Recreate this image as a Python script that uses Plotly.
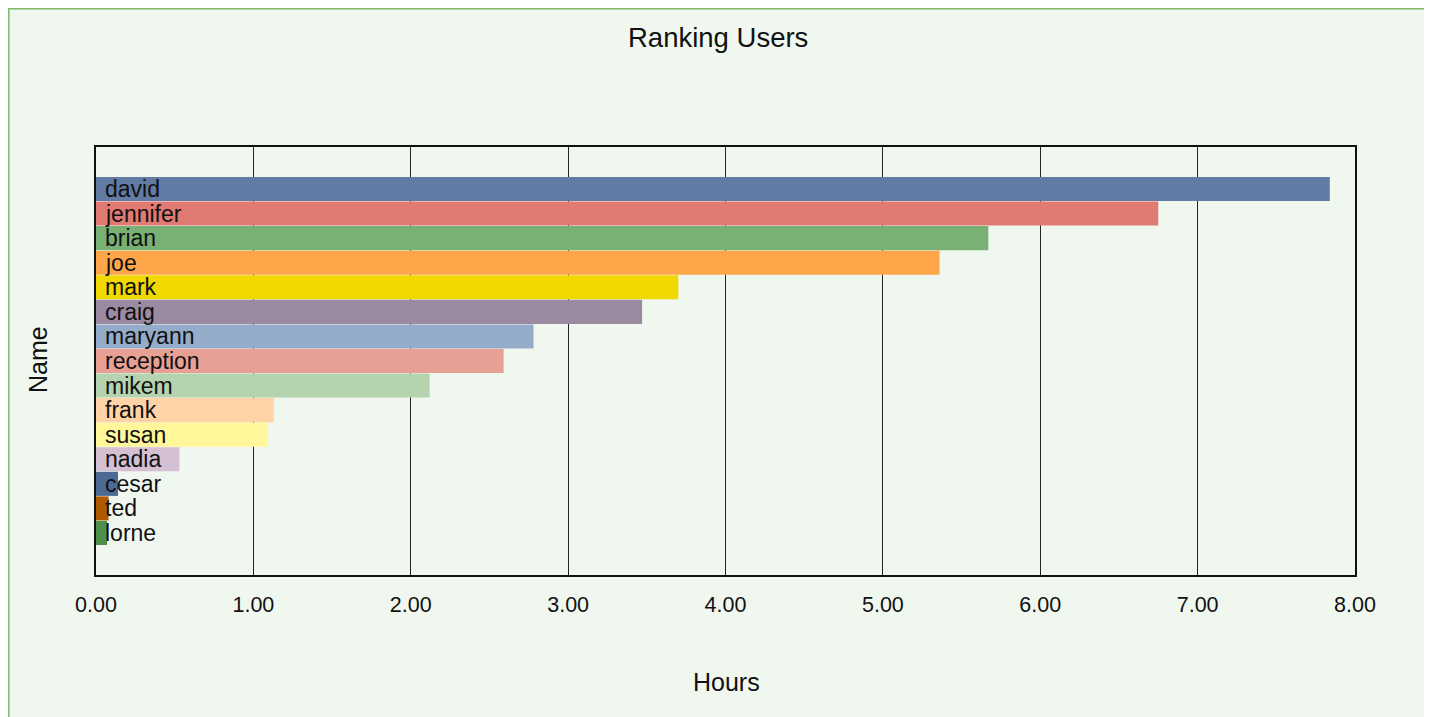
import plotly.graph_objects as go

names = ["david", "jennifer", "brian", "joe", "mark", "craig", "maryann", "reception",
         "mikem", "frank", "susan", "nadia", "cesar", "ted", "lorne"]
hours = [7.84, 6.75, 5.67, 5.36, 3.70, 3.47, 2.78, 2.59, 2.12, 1.13, 1.09, 0.53, 0.14, 0.08, 0.07]
colors = ["#627BA4", "#E07A72", "#78B173", "#FFA64A", "#F0D800", "#9C8AA3", "#94ABC9", "#E8A095",
          "#B6D3AF", "#FFD3A6", "#FFF799", "#D5BFD3", "#4C6A94", "#B05A00", "#4E8F4A"]
x_ticks = [0, 1, 2, 3, 4, 5, 6, 7, 8]
x_tick_labels = ["0.00", "1.00", "2.00", "3.00", "4.00", "5.00", "6.00", "7.00", "8.00"]

FONT = "Liberation Sans, Arial, sans-serif"
BG = "#F0F7EF"

W, H = 1424, 709
L, R, T, B = 88, 77, 139, 142  # plot area in figure coords
PW, PH = W - L - R, H - T - B

def px(xf):
    return (xf - L) / PW

def py(yf):
    return (H - B - yf) / PH

fig = go.Figure()
fig.add_trace(go.Bar(
    y=names, x=hours, orientation="h",
    marker=dict(color=colors, line=dict(width=0)),
    hoverinfo="x+y", showlegend=False,
))

label_annotations = [
    dict(text=n, x=0, y=n, xref="x", yref="y", xanchor="left", yanchor="middle",
         xshift=7, showarrow=False, font=dict(family=FONT, size=23, color="#111111"))
    for n in names
]

fig.update_layout(
    width=W, height=H,
    margin=dict(l=L, r=R, t=T, b=B),
    paper_bgcolor="white",
    plot_bgcolor="rgba(0,0,0,0)",
    bargap=0.02,
    font=dict(family=FONT, color="#111111"),
    xaxis=dict(
        range=[0, 8], tickvals=x_ticks, ticktext=x_tick_labels,
        showgrid=True, gridcolor="#222222", gridwidth=1,
        showline=True, linecolor="#111111", linewidth=2, mirror=True,
        ticks="", ticklabelstandoff=9,
        tickfont=dict(size=21.5, family=FONT, color="#111111"),
        zeroline=False, fixedrange=True,
    ),
    yaxis=dict(
        categoryorder="array", categoryarray=names,
        range=[14 + 1.71, -1.71],
        showticklabels=False, ticks="", showgrid=False,
        showline=True, linecolor="#111111", linewidth=2, mirror=True,
        zeroline=False, fixedrange=True,
    ),
    shapes=[dict(
        type="rect", xref="paper", yref="paper",
        x0=px(0.8), x1=px(W - 1),
        y0=py(H + 20), y1=py(0.8),
        fillcolor=BG, line=dict(color="#7DB86E", width=1.5), layer="below",
    )],
    annotations=label_annotations + [
        dict(text="Ranking Users", xref="paper", yref="paper",
             x=px(710), y=py(29), showarrow=False,
             xanchor="center", yanchor="middle",
             font=dict(size=27.5, family=FONT, color="#111111")),
        dict(text="Hours", xref="paper", yref="paper",
             x=px(718), y=py(674), showarrow=False,
             xanchor="center", yanchor="middle",
             font=dict(size=25, family=FONT, color="#111111")),
        dict(text="Name", xref="paper", yref="paper",
             x=px(30), y=py(352), showarrow=False,
             xanchor="center", yanchor="middle", textangle=-90,
             font=dict(size=25, family=FONT, color="#111111")),
    ],
)

fig.write_html("out.html")
